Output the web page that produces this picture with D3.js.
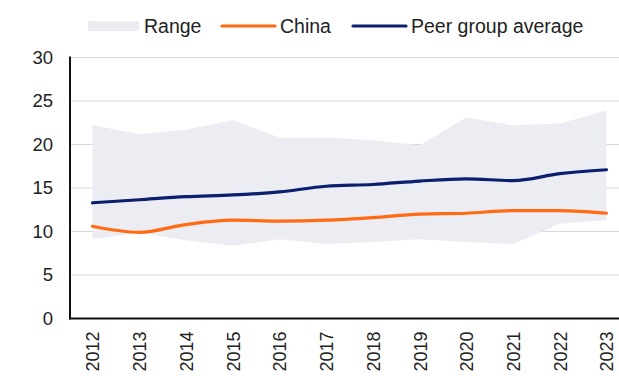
<!DOCTYPE html>
<html>
<head>
<meta charset="utf-8">
<script src="https://cdn.jsdelivr.net/npm/d3@7"></script>
<style>
  html, body { margin: 0; padding: 0; background: #fff; }
  svg { display: block; font-family: "Liberation Sans", Arial, sans-serif; }
</style>
</head>
<body>
<svg id="chart" width="619" height="376"></svg>
<script>
// Years on the x axis
const years = [2012, 2013, 2014, 2015, 2016, 2017, 2018, 2019, 2020, 2021, 2022, 2023];
// China
const china = [10.6, 9.9, 10.8, 11.3, 11.2, 11.3, 11.6, 12.0, 12.1, 12.4, 12.4, 12.1];
// Peer group average
const peerAvg = [13.3, 13.65, 14.0, 14.2, 14.55, 15.2, 15.4, 15.8, 16.05, 15.85, 16.65, 17.1];
// Peer group range (min / max)
const rangeHigh = [22.2, 21.2, 21.7, 22.8, 20.8, 20.8, 20.5, 19.9, 23.1, 22.2, 22.4, 23.9];
const rangeLow = [9.1, 9.85, 9.0, 8.35, 9.1, 8.55, 8.8, 9.1, 8.8, 8.55, 10.9, 11.3];
// Y axis ticks
const yTicks = [0, 5, 10, 15, 20, 25, 30];

const legendItems = [
  { label: "Range", type: "area", color: "#ECEDF3" },
  { label: "China", type: "line", color: "#FF6A13" },
  { label: "Peer group average", type: "line", color: "#0B1F6E" }
];

const svg = d3.select("#chart");
const plotLeft = 70, plotRight = 619, plotTop = 57.5, plotBottom = 318.5;

const x = d3.scalePoint().domain(years).range([92.5, 606.5]);
const y = d3.scaleLinear().domain([0, 30]).range([plotBottom, plotTop]);

const rows = years.map((yr, i) => ({
  year: yr, china: china[i], peer: peerAvg[i], lo: rangeLow[i], hi: rangeHigh[i]
}));

// Gridlines
svg.append("g")
  .selectAll("line")
  .data(yTicks.filter(t => t > 0))
  .join("line")
  .attr("x1", plotLeft).attr("x2", plotRight)
  .attr("y1", d => y(d)).attr("y2", d => y(d))
  .attr("stroke", "#D3D9DC").attr("stroke-width", 1.2);

// Range band
svg.append("path")
  .datum(rows)
  .attr("fill", "#ECEDF3")
  .attr("d", d3.area().x(d => x(d.year)).y0(d => y(d.lo)).y1(d => y(d.hi)));

// Lines
const line = key => d3.line().x(d => x(d.year)).y(d => y(d[key])).curve(d3.curveMonotoneX);
svg.append("path").datum(rows)
  .attr("fill", "none").attr("stroke", "#FF6A13").attr("stroke-width", 3.2)
  .attr("stroke-linecap", "round").attr("d", line("china"));
svg.append("path").datum(rows)
  .attr("fill", "none").attr("stroke", "#0B1F6E").attr("stroke-width", 3.2)
  .attr("stroke-linecap", "round").attr("d", line("peer"));

// Y axis
const yAxis = svg.append("g")
  .attr("transform", `translate(${plotLeft},0)`)
  .call(d3.axisLeft(y).tickValues(yTicks).tickSize(0).tickPadding(17));
yAxis.select(".domain").remove();
yAxis.selectAll("text")
  .attr("font-size", 18.5).attr("fill", "#222").attr("font-family", "Liberation Sans, Arial, sans-serif");

// X axis
const xAxis = svg.append("g")
  .attr("transform", `translate(0,${plotBottom})`)
  .call(d3.axisBottom(x).tickSize(0).tickFormat(d3.format("d")));
xAxis.select(".domain").remove();
xAxis.selectAll("text")
  .attr("font-size", 18).attr("fill", "#222").attr("font-family", "Liberation Sans, Arial, sans-serif")
  .attr("text-anchor", "end")
  .attr("transform", "rotate(-90)")
  .attr("x", -13).attr("y", 0).attr("dy", "0.36em");

// Axis lines
svg.append("line")
  .attr("x1", plotLeft).attr("x2", plotLeft)
  .attr("y1", plotTop - 1).attr("y2", plotBottom + 1)
  .attr("stroke", "#111").attr("stroke-width", 2);
svg.append("line")
  .attr("x1", plotLeft - 1).attr("x2", plotRight)
  .attr("y1", plotBottom).attr("y2", plotBottom)
  .attr("stroke", "#111").attr("stroke-width", 2);

// Legend
const legendX = [88, 222, 353];
const leg = svg.append("g").attr("class", "legend");
legendItems.forEach((item, i) => {
  const g = leg.append("g").attr("transform", `translate(${legendX[i]},26)`);
  if (item.type === "area") {
    g.append("rect").attr("x", 0).attr("y", -5).attr("width", 51).attr("height", 10).attr("fill", item.color);
  } else {
    g.append("line").attr("x1", 0).attr("x2", 53).attr("y1", 0).attr("y2", 0)
      .attr("stroke", item.color).attr("stroke-width", 3.2).attr("stroke-linecap", "round");
  }
  g.append("text")
    .attr("x", i === 0 ? 56 : 58).attr("y", 0).attr("dy", "0.36em")
    .attr("font-size", 19.5).attr("fill", "#222")
    .text(item.label);
});
</script>
</body>
</html>
